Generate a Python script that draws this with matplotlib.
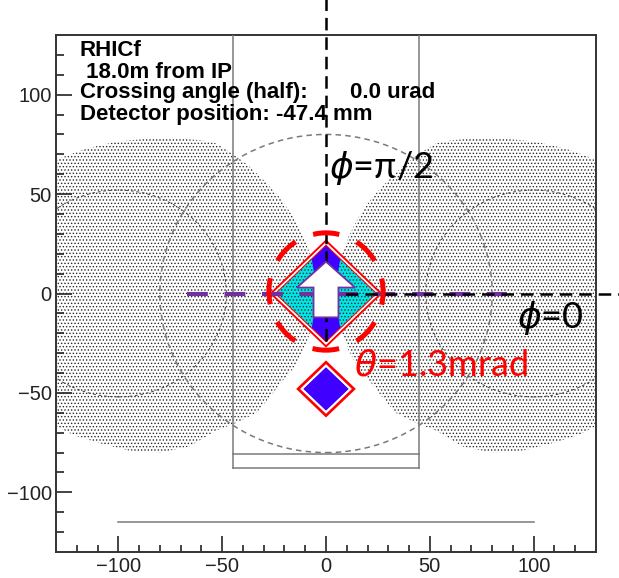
import numpy as np
import matplotlib.pyplot as plt
from matplotlib.patches import Circle, Ellipse, Polygon

plt.rcParams['font.family'] = ['Liberation Sans', 'DejaVu Sans']
plt.rcParams['lines.scale_dashes'] = False
plt.rcParams['hatch.linewidth'] = 0.6
plt.rcParams['mathtext.fontset'] = 'dejavusans'

# ---------------- Geometry (mm at the detector plane) ----------------
x_lim = (-130, 130)
y_lim = (-130, 130)
x_ticks = [-100, -50, 0, 50, 100]
y_ticks = [-100, -50, 0, 50, 100]

# outline of the left shadow region, upper edge then lower edge (x, y);
# the right region is its mirror image
shadow_up_x = [-135, -127, -115, -100, -85, -70, -60, -53, -45, -37, -29, -22, -16, -11, -7, -5.5, -5]
shadow_up_y = [64, 68.5, 73, 76.5, 78, 78, 77, 75.5, 70.5, 64, 56, 48, 39, 29, 18, 9, 0]
shadow_lo_x = [-5, -5.5, -7, -11, -16, -21, -27, -33.5, -43, -53, -66, -80, -95, -110, -122, -135]
shadow_lo_y = [0, -9, -18, -29, -38, -44, -52, -60, -65, -69, -77, -80, -79, -75, -71, -64]

aperture_r = 80               # central aperture, dashed
side_x = [-100, 100]          # neighbouring pipe apertures
side_r = 52
box_x = [-45, 45]             # detector housing
box_bottom = -88
box_inner = -80.5
box_top = 130
floor_x = [-100, 100]
floor_y = -115

tl_center = (0, 0)            # large tower
tl_half = 26.5                # half diagonal
ts_center = (0, -48)          # small tower
ts_half = 13.2

scan_x = [-67, 87]            # scan line at y = 0
theta_center = (0, 1)
theta_w, theta_h = 55, 59     # 1.3 mrad cone

phi_axis_top = 148
phi_axis_bottom = -24
phi_axis_right = 142

arrow_x = [-6, -6, -14, 0, 14, 6, 6]
arrow_y = [-12, 3, 3, 16, 3, 3, -12]

info_lines = ["RHICf", " 18.0m from IP", "Crossing angle (half):", "Detector position: -47.4 mm"]
crossing_value = "0.0 urad"


def diamond(c, h):
    cx, cy = c
    return [(cx, cy + h), (cx + h, cy), (cx, cy - h), (cx - h, cy)]


def shadow_outline(side):
    xs = np.concatenate([shadow_up_x, shadow_lo_x[1:]])
    ys = np.concatenate([shadow_up_y, shadow_lo_y[1:]])
    return np.column_stack([side * xs, ys])


fig = plt.figure(figsize=(6.19, 5.78), dpi=100)
ax = fig.add_axes([56 / 619, 26 / 578, 540 / 619, 517 / 578])
ax.set_xlim(*x_lim)
ax.set_ylim(*y_lim)

gray = '#7a7a7a'
purple = '#7030a0'
blue = '#4000ff'
cyan = '#00e5e5'

# large tower: blue where unshadowed, cyan inside the shadow
inner = Polygon(diamond(tl_center, tl_half - 2.2), closed=True,
                facecolor=blue, edgecolor='none', zorder=1)
ax.add_patch(inner)
for side in (1, -1):
    p = Polygon(shadow_outline(side), closed=True, facecolor=cyan,
                edgecolor='none', zorder=1.5)
    ax.add_patch(p)
    p.set_clip_path(inner)

# small tower
ax.add_patch(Polygon(diamond(ts_center, ts_half - 2.2), closed=True,
                     facecolor=blue, edgecolor='none', zorder=1))

# stippled shadow regions
for side in (1, -1):
    ax.add_patch(Polygon(shadow_outline(side), closed=True, facecolor='none',
                         edgecolor='#2a2a2a', lw=0, hatch='.....', zorder=2))

# apertures
ax.add_patch(Circle((0, 0), aperture_r, fill=False, edgecolor=gray, lw=1.1,
                    linestyle=(0, (4, 3)), zorder=3))
for sx in side_x:
    ax.add_patch(Circle((sx, 0), side_r, fill=False, edgecolor='#444444', lw=0.7,
                        linestyle=(0, (2, 2)), zorder=3))

# housing outline
for bx in box_x:
    ax.plot([bx, bx], [box_bottom, box_top], color=gray, lw=1.1, zorder=3)
ax.plot(box_x, [box_bottom, box_bottom], color=gray, lw=1.1, zorder=3)
ax.plot(box_x, [box_inner, box_inner], color=gray, lw=1.1, zorder=3)
ax.plot(floor_x, [floor_y, floor_y], color=gray, lw=1.1, zorder=3)

# tower outlines (red frame, white gap, thin red inner frame)
ax.add_patch(Polygon(diamond(tl_center, tl_half), closed=True, fill=False,
                     edgecolor='red', lw=1.5, zorder=4))
ax.add_patch(Polygon(diamond(tl_center, tl_half - 1.2), closed=True, fill=False,
                     edgecolor='white', lw=1.0, zorder=4))
ax.add_patch(Polygon(diamond(tl_center, tl_half - 2.2), closed=True, fill=False,
                     edgecolor='red', lw=0.7, zorder=4))
ax.add_patch(Polygon(diamond(ts_center, ts_half), closed=True, fill=False,
                     edgecolor='red', lw=2.4, zorder=4))
ax.add_patch(Polygon(diamond(ts_center, ts_half - 1.4), closed=True, fill=False,
                     edgecolor='white', lw=1.4, zorder=4))

# scan line
ax.plot(scan_x, [0, 0], color=purple, lw=3.0, linestyle=(0, (15, 12)),
        solid_capstyle='butt', zorder=5)

# phi reference axes
ax.plot([0, 0], [phi_axis_bottom, phi_axis_top], color='black', lw=1.8,
        linestyle=(0, (9, 5)), clip_on=False, zorder=6)
ax.plot([0, phi_axis_right], [0, 0], color='black', lw=1.8,
        linestyle=(0, (9, 5)), clip_on=False, zorder=6)

# spin direction arrow
ax.add_patch(Polygon(np.column_stack([arrow_x, arrow_y]), closed=True,
                     facecolor='white', edgecolor=purple, lw=1.3, zorder=7))

# theta cone
on, off = 19.0, 13.7
ax.add_patch(Ellipse(theta_center, theta_w, theta_h, fill=False, edgecolor='red',
                     lw=3.6, linestyle=(on / 2, (on, off)), zorder=8))

# labels
ax.text(1.5, 58, r'$\phi$=π/2', fontsize=26, family=['Lato', 'DejaVu Sans'],
        ha='left', va='baseline', zorder=9)
ax.text(92, -17.5, r'$\phi$=0', fontsize=26, family=['Lato', 'DejaVu Sans'],
        ha='left', va='baseline', zorder=9)
ax.text(13.5, -41, r'$\theta$=1.3mrad', fontsize=26, color='red',
        family=['Lato', 'DejaVu Sans'], ha='left', va='baseline', zorder=9)

baselines = [0.9594, 0.9168, 0.8781, 0.8356]
for txt, yb in zip(info_lines, baselines):
    ax.text(0.0444, yb, txt, transform=ax.transAxes, fontsize=16, fontweight='bold',
            ha='left', va='baseline', zorder=9)
ax.text(0.544, baselines[2], crossing_value, transform=ax.transAxes, fontsize=16,
        fontweight='bold', ha='left', va='baseline', zorder=9)

# ROOT-like frame and ticks
ax.set_xticks(x_ticks)
ax.set_yticks(y_ticks)
ax.set_xticks(np.arange(-120, 130, 10), minor=True)
ax.set_yticks(np.arange(-120, 130, 10), minor=True)
ax.tick_params(which='both', direction='in', top=False, right=False,
               labelsize=14.5, colors='#222222', width=1.2)
ax.tick_params(which='major', length=11.5)
ax.tick_params(which='minor', length=5.4)
ax.tick_params(axis='x', pad=3.5)
ax.tick_params(axis='y', pad=3)
for sp in ax.spines.values():
    sp.set_color('#333333')
    sp.set_linewidth(1.4)

fig.savefig('out.png', dpi=100)
